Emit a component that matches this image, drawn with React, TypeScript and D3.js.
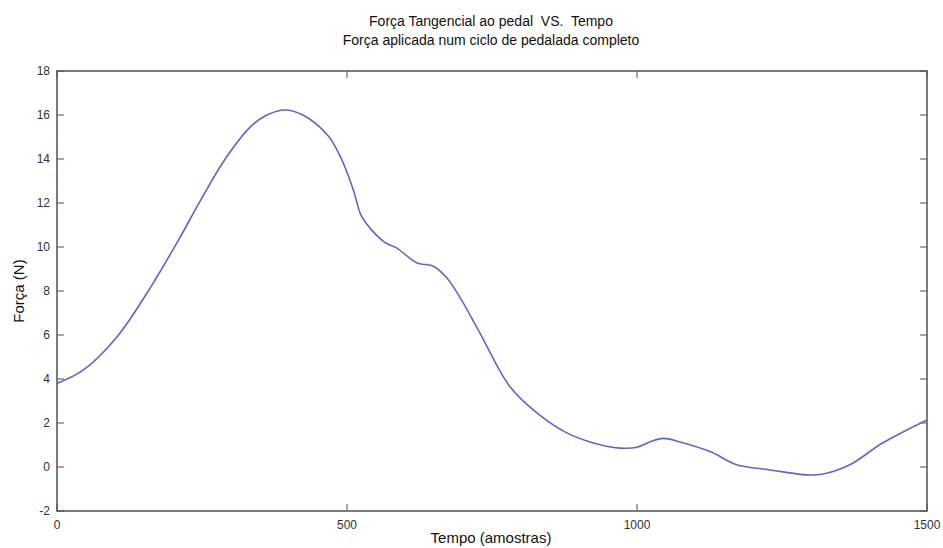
import React from "react";
import * as d3 from "d3";

const samples = [0, 45, 103, 155, 207, 247, 290, 333, 362, 393, 424, 466, 485, 500, 512, 525, 545, 566, 586, 621, 648, 672, 695, 729, 781, 828, 879, 919, 971, 1000, 1022, 1045, 1074, 1126, 1172, 1221, 1252, 1293, 1321, 1367, 1424, 1500];
const forca = [3.8, 4.4, 5.9, 7.9, 10.2, 12.1, 14.0, 15.45, 16.0, 16.23, 16.0, 15.1, 14.3, 13.4, 12.5, 11.4, 10.7, 10.2, 9.95, 9.27, 9.14, 8.6, 7.7, 6.1, 3.65, 2.45, 1.55, 1.14, 0.86, 0.9, 1.14, 1.3, 1.14, 0.7, 0.1, -0.1, -0.22, -0.36, -0.32, 0.1, 1.1, 2.14];
const xTicks = [0, 500, 1000, 1500];
const yTicks = [-2, 0, 2, 4, 6, 8, 10, 12, 14, 16, 18];

const W = 943, H = 548;
const L = 57, R = 927, T = 71, B = 511;

export default function App() {
  const x = d3.scaleLinear().domain([0, 1500]).range([L, R]);
  const y = d3.scaleLinear().domain([-2, 18]).range([B, T]);
  const data = samples.map((s, i) => [s, forca[i]] as [number, number]);
  const line = d3.line<[number, number]>().x(d => x(d[0])).y(d => y(d[1])).curve(d3.curveCatmullRom.alpha(0.5));
  const axisColor = "#505050";
  const font = "'Liberation Sans', Arial, sans-serif";
  const tl = 7;
  return (
    <svg width={W} height={H} style={{ position: "absolute", left: 0, top: 0, background: "#fff" }} fontFamily={font}>
      <rect x={0} y={0} width={W} height={H} fill="#fff" />
      <text x={491} y={26} textAnchor="middle" fontSize={14} fill="#111" style={{ whiteSpace: "pre" }}>Força Tangencial ao pedal  VS.  Tempo</text>
      <text x={491} y={45} textAnchor="middle" fontSize={14} fill="#111">Força aplicada num ciclo de pedalada completo</text>
      {xTicks.map(t => (
        <g key={"x" + t}>
          <line x1={x(t)} x2={x(t)} y1={B} y2={B - tl} stroke={axisColor} />
          <line x1={x(t)} x2={x(t)} y1={T} y2={T + tl} stroke={axisColor} />
          <text x={x(t)} y={529} textAnchor="middle" fontSize={12} fill="#333">{t}</text>
        </g>
      ))}
      {yTicks.map(t => (
        <g key={"y" + t}>
          <line x1={L} x2={L + tl} y1={y(t)} y2={y(t)} stroke={axisColor} />
          <line x1={R} x2={R - tl} y1={y(t)} y2={y(t)} stroke={axisColor} />
          <text x={50} y={y(t) + 4} textAnchor="end" fontSize={12} fill="#333">{t}</text>
        </g>
      ))}
      <path d={line(data) || ""} fill="none" stroke="#6464c4" strokeWidth={1.6} />
      <rect x={L} y={T} width={R - L} height={B - T} fill="none" stroke={axisColor} strokeWidth={1.5} />
      <text x={491} y={543} textAnchor="middle" fontSize={15} fill="#111">Tempo (amostras)</text>
      <text transform={`translate(24,${(T + B) / 2}) rotate(-90)`} textAnchor="middle" fontSize={15} fill="#111">Força (N)</text>
    </svg>
  );
}
